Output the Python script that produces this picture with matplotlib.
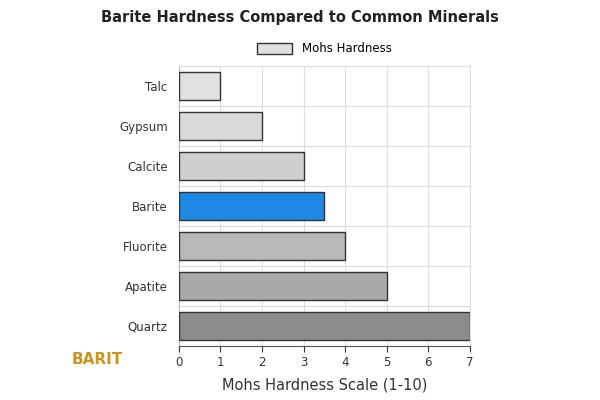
import matplotlib
matplotlib.use("Agg")
import matplotlib.pyplot as plt
from matplotlib.patches import Patch

minerals = ["Talc", "Gypsum", "Calcite", "Barite", "Fluorite", "Apatite", "Quartz"]
hardness = [1, 2, 3, 3.5, 4, 5, 7]
colors = ["#e0e0e0", "#d9d9d9", "#cfcfcf", "#1e88e5", "#b8b8b8", "#a9a9a9", "#8c8c8c"]

fig = plt.figure(figsize=(6, 4), dpi=100)
ax = fig.add_axes([0.298, 0.135, 0.485, 0.70])

ypos = list(range(len(minerals)))
ax.barh(ypos, hardness, height=0.72, color=colors, edgecolor="#333333", linewidth=1.0, zorder=3)
ax.set_yticks(ypos)
ax.set_yticklabels(minerals, fontsize=8.5, color="#333333")
ax.set_ylim(len(minerals) - 0.5, -0.5)
ax.set_xlim(0, 7)
ax.set_xticks(range(8))
ax.tick_params(axis="x", labelsize=8.5, colors="#333333", length=4)
ax.tick_params(axis="y", length=0, pad=8)
ax.grid(True, color="#dddddd", linewidth=0.8, zorder=0)
ax.set_yticks([y + 0.5 for y in ypos[:-1]], minor=True)
ax.grid(True, which="minor", axis="y", color="#dddddd", linewidth=0.8, zorder=0)
ax.tick_params(which="minor", length=0)
ax.grid(False, which="major", axis="y")
for s in ["top", "right"]:
    ax.spines[s].set_color("#dddddd")
ax.spines["left"].set_color("#bbbbbb")
ax.spines["bottom"].set_color("#555555")

ax.set_xlabel("Mohs Hardness Scale (1-10)", fontsize=10.5, color="#333333", labelpad=6)
fig.suptitle("Barite Hardness Compared to Common Minerals", fontsize=10.5, fontweight="bold",
             color="#222222", y=0.975)
ax.legend(handles=[Patch(facecolor="#e0e0e0", edgecolor="#333333", label="Mohs Hardness")],
          loc="lower center", bbox_to_anchor=(0.5, 1.0), frameon=False, fontsize=8.5,
          handlelength=3, handleheight=1)

fig.text(0.12, 0.09, "BARIT", fontsize=11, fontweight="bold", color="#c8961e")
fig.savefig("out.png", dpi=100)
